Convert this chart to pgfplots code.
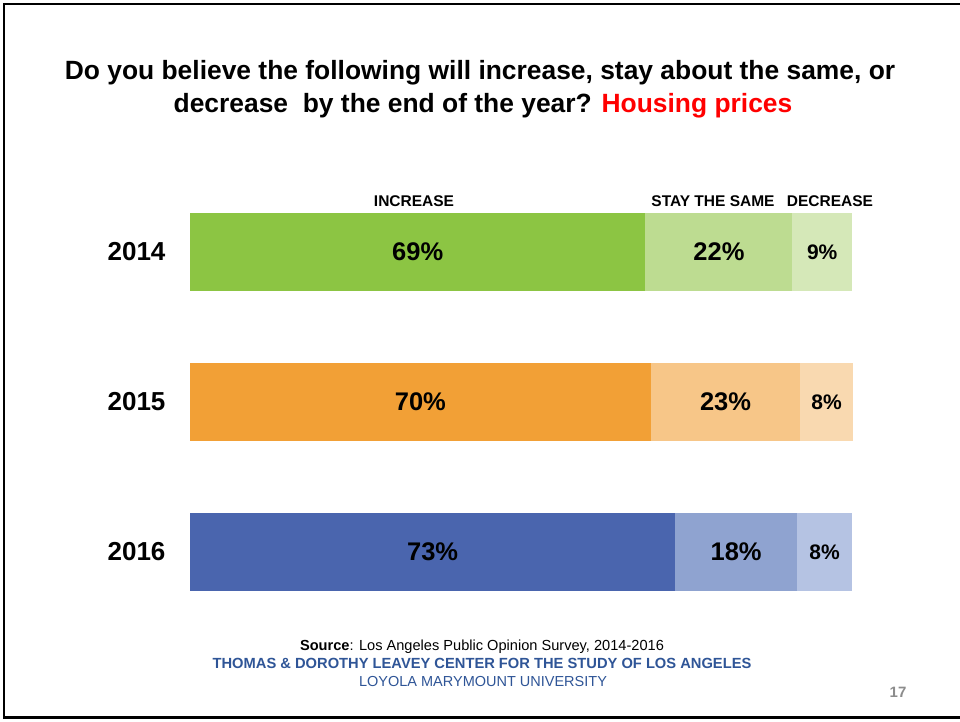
\documentclass[border=0pt]{standalone}
\usepackage{fontspec}
\setmainfont{Liberation Sans}
\usepackage{pgfplots}
\pgfplotsset{compat=1.18}
\usepackage{pgfplotstable}
\definecolor{GA}{HTML}{8CC543}
\definecolor{GB}{HTML}{BDDC91}
\definecolor{GC}{HTML}{D5E8B8}
\definecolor{OA}{HTML}{F2A036}
\definecolor{OB}{HTML}{F7C688}
\definecolor{OC}{HTML}{F9D9B0}
\definecolor{BA}{HTML}{4A65AE}
\definecolor{BB}{HTML}{8FA3D0}
\definecolor{BC}{HTML}{B5C3E3}
\definecolor{FootBlue}{HTML}{2F5597}
\definecolor{PageGray}{HTML}{8C8C8C}

% shares (percent) per year: increase, stay the same, decrease
\pgfplotstableread{
y inc same dec
0 68.8 22.2 9.0
1 69.6 22.6 7.9
2 73.3 18.4 8.3
}\data

\begin{document}
\begin{tikzpicture}[x=1pt,y=1pt]
\useasboundingbox (0,0) rectangle (960,721);
\fill[white] (0,0) rectangle (960,721);
\draw[line width=2.2pt, line join=miter] (962,717) -- (4,717) -- (4,3.5) -- (962,3.5);

\node[anchor=base, font=\bfseries\fontsize{26.4}{30}\selectfont] at (480,641)
  {Do you believe the following will increase, stay about the same, or};
\node[anchor=base, font=\bfseries\fontsize{26.4}{30}\selectfont] at (483,608)
  {decrease\ \ by the end of the year? \textcolor{red}{Housing prices}};

\node[anchor=base, font=\bfseries\fontsize{15.5}{17}\selectfont] at (414,514) {INCREASE};
\node[anchor=base, font=\bfseries\fontsize{15.5}{17}\selectfont] at (713,514) {STAY THE SAME};
\node[anchor=base, font=\bfseries\fontsize{15.5}{17}\selectfont] at (830,514) {DECREASE};

\begin{axis}[
  at={(190pt,94pt)}, anchor=south west,
  scale only axis, width=662pt, height=450pt,
  xmin=0, xmax=100, ymin=-0.5, ymax=2.5, y dir=reverse,
  axis line style={draw=none},
  xtick=\empty, ytick={0,1,2},
  yticklabels={\textbf{2014},\textbf{2015},\textbf{2016}},
  major tick length=0pt,
  yticklabel style={font=\bfseries\fontsize{26}{28}\selectfont, xshift=-21pt},
  /pgf/number format/assume math mode=true,
  /pgf/number format/fixed, /pgf/number format/precision=0,
  clip=false,
]
% 2014
\addplot[xbar, bar width=78pt, bar shift=0pt, fill=GC, draw=none, restrict y to domain=-0.1:0.1]
  table[x expr=\thisrow{inc}+\thisrow{same}+\thisrow{dec}, y=y]{\data};
\addplot[xbar, bar width=78pt, bar shift=0pt, fill=GB, draw=none, restrict y to domain=-0.1:0.1]
  table[x expr=\thisrow{inc}+\thisrow{same}, y=y]{\data};
\addplot[xbar, bar width=78pt, bar shift=0pt, fill=GA, draw=none, restrict y to domain=-0.1:0.1]
  table[x=inc, y=y]{\data};
% 2015
\addplot[xbar, bar width=78pt, bar shift=0pt, fill=OC, draw=none, restrict y to domain=0.9:1.1]
  table[x expr=\thisrow{inc}+\thisrow{same}+\thisrow{dec}, y=y]{\data};
\addplot[xbar, bar width=78pt, bar shift=0pt, fill=OB, draw=none, restrict y to domain=0.9:1.1]
  table[x expr=\thisrow{inc}+\thisrow{same}, y=y]{\data};
\addplot[xbar, bar width=78pt, bar shift=0pt, fill=OA, draw=none, restrict y to domain=0.9:1.1]
  table[x=inc, y=y]{\data};
% 2016
\addplot[xbar, bar width=78pt, bar shift=0pt, fill=BC, draw=none, restrict y to domain=1.9:2.1]
  table[x expr=\thisrow{inc}+\thisrow{same}+\thisrow{dec}, y=y]{\data};
\addplot[xbar, bar width=78pt, bar shift=0pt, fill=BB, draw=none, restrict y to domain=1.9:2.1]
  table[x expr=\thisrow{inc}+\thisrow{same}, y=y]{\data};
\addplot[xbar, bar width=78pt, bar shift=0pt, fill=BA, draw=none, restrict y to domain=1.9:2.1]
  table[x=inc, y=y]{\data};
% value labels
\addplot[draw=none, point meta=explicit,
  nodes near coords={\pgfmathprintnumber{\pgfplotspointmeta}\%},
  every node near coord/.append style={anchor=center, font=\bfseries\fontsize{25.5}{28}\selectfont, text=black}]
  table[x expr=\thisrow{inc}/2, y=y, meta=inc]{\data};
\addplot[draw=none, point meta=explicit,
  nodes near coords={\pgfmathprintnumber{\pgfplotspointmeta}\%},
  every node near coord/.append style={anchor=center, font=\bfseries\fontsize{25.5}{28}\selectfont, text=black}]
  table[x expr=\thisrow{inc}+\thisrow{same}/2, y=y, meta=same]{\data};
\addplot[draw=none, point meta=explicit,
  nodes near coords={\pgfmathprintnumber{\pgfplotspointmeta}\%},
  every node near coord/.append style={anchor=center, font=\bfseries\fontsize{21}{24}\selectfont, text=black}]
  table[x expr=\thisrow{inc}+\thisrow{same}+\thisrow{dec}/2, y=y, meta=dec]{\data};
\end{axis}

\node[anchor=base, font=\fontsize{14.6}{17}\selectfont] at (482,71)
  {\textbf{Source}: Los Angeles Public Opinion Survey, 2014-2016};
\node[anchor=base, font=\bfseries\fontsize{14.7}{16}\selectfont, text=FootBlue] at (482,53)
  {THOMAS \& DOROTHY LEAVEY CENTER FOR THE STUDY OF LOS ANGELES};
\node[anchor=base, font=\fontsize{14.5}{16}\selectfont, text=FootBlue] at (483,35)
  {LOYOLA MARYMOUNT UNIVERSITY};
\node[anchor=base, font=\bfseries\fontsize{15}{17}\selectfont, text=PageGray] at (898,24) {17};
\end{tikzpicture}
\end{document}
